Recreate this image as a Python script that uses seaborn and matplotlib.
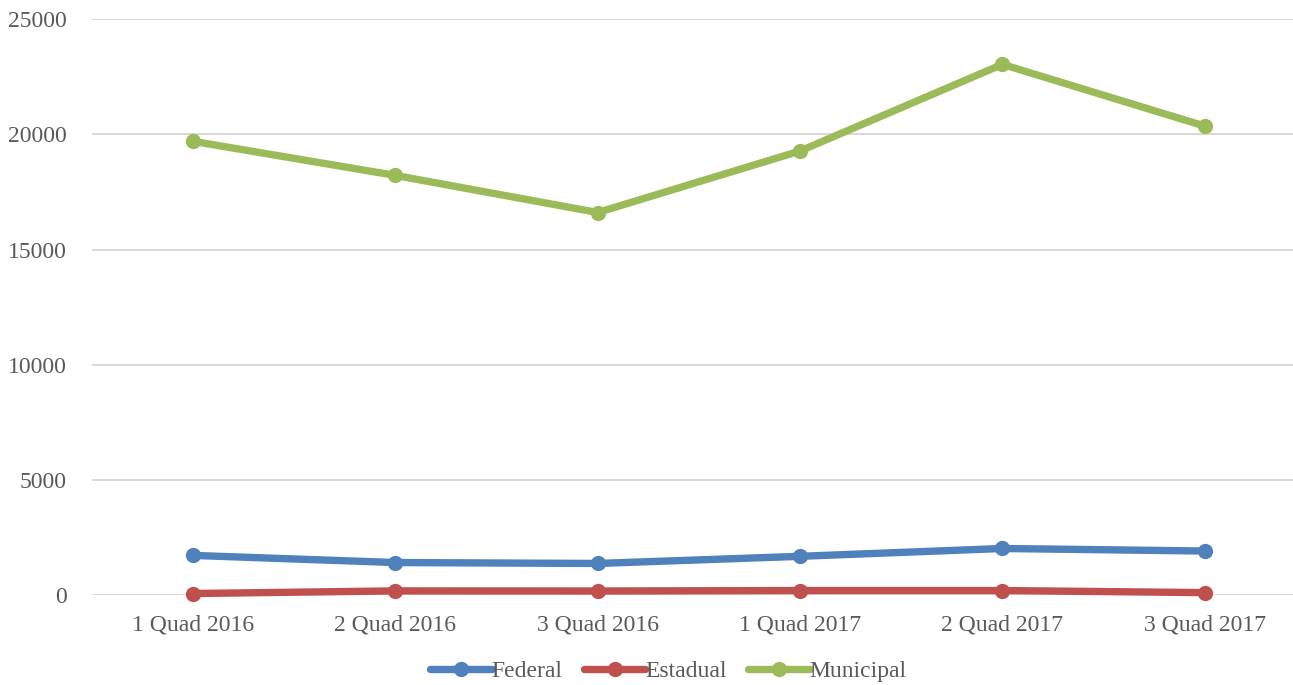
import matplotlib
matplotlib.use("Agg")
import matplotlib.pyplot as plt
import pandas as pd
import seaborn as sns

periods = ["1 Quad 2016", "2 Quad 2016", "3 Quad 2016", "1 Quad 2017", "2 Quad 2017", "3 Quad 2017"]
federal = [1730, 1420, 1380, 1690, 2030, 1920]
estadual = [75, 190, 185, 205, 205, 115]
municipal = [19700, 18220, 16610, 19280, 23040, 20360]
series_names = ["Federal", "Estadual", "Municipal"]
colors = ["#4F81BD", "#C0504D", "#9BBB59"]

df = pd.DataFrame({
    "periodo": periods * 3,
    "valor": federal + estadual + municipal,
    "esfera": [n for n in series_names for _ in periods],
})

sns.set_style("white")
plt.rcParams["font.family"] = ["Liberation Serif", "DejaVu Serif"]

fig = plt.figure(figsize=(12.93, 6.85), dpi=100)
ax = fig.add_axes([0.071, 0.131, 0.939, 0.841])

sns.lineplot(data=df, x="periodo", y="valor", hue="esfera", hue_order=series_names,
             palette=colors, marker="o", markersize=11, markeredgewidth=0,
             linewidth=5.3, sort=False, ax=ax)
for line in ax.lines:
    line.set_clip_on(False)

ax.set_xlim(-0.5, 5.5)
ax.set_ylim(0, 25000)
ax.set_yticks(range(0, 25001, 5000))
ax.yaxis.grid(True, color="#D9D9D9", linewidth=1.5)
ax.set_axisbelow(True)
for s in ax.spines.values():
    s.set_visible(False)
ax.tick_params(axis="both", length=0, labelsize=17, labelcolor="#595959")
ax.tick_params(axis="x", pad=14)
ax.tick_params(axis="y", pad=18)
ax.set_xlabel("")
ax.set_ylabel("")

leg = ax.legend(loc="lower center", bbox_to_anchor=(0.5 - 0.025, -0.188), ncol=3,
                frameon=False, fontsize=17, handlelength=2.6, handletextpad=0.0,
                columnspacing=0.9, labelcolor="#595959")

fig.savefig("out.png", dpi=100)
plt.close(fig)
